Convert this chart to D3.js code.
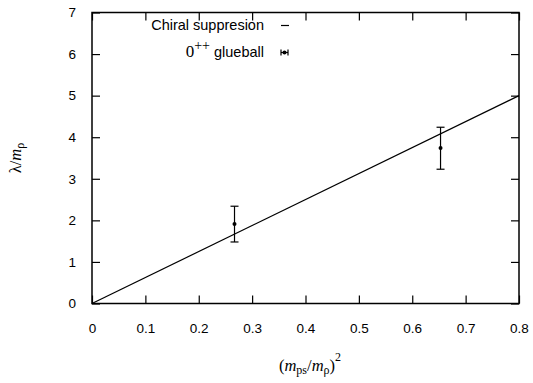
<!DOCTYPE html>
<html>
<head>
<meta charset="utf-8">
<script src="https://cdn.jsdelivr.net/npm/d3@7"></script>
<style>
  html, body { margin: 0; padding: 0; background: #fff; }
  svg { display: block; }
  .tick text { font-family: "Liberation Sans", Arial, sans-serif; font-size: 13.5px; fill: #000; }
</style>
</head>
<body>
<svg id="chart" width="533" height="383"></svg>
<script>
// Glueball data: x = (m_ps/m_rho)^2, y = lambda/m_rho with asymmetric errors
const glueX = [0.267, 0.653];
const glueY = [1.91, 3.74];
const glueLow = [1.48, 3.23];
const glueHigh = [2.34, 4.24];

// Chiral suppression line endpoints
const chiralX = [0, 0.8];
const chiralY = [0, 5.0];

const xTicks = [0, 0.1, 0.2, 0.3, 0.4, 0.5, 0.6, 0.7, 0.8];
const yTicks = [0, 1, 2, 3, 4, 5, 6, 7];

const svg = d3.select("#chart");
const margin = { left: 92, right: 14, top: 12.5, bottom: 79.5 };
const W = 533, H = 383;

const x = d3.scaleLinear().domain([0, 0.8]).range([margin.left, W - margin.right]);
const y = d3.scaleLinear().domain([0, 7]).range([H - margin.bottom, margin.top]);

const tickLen = 8;

// Axes with inward ticks, mirrored on top and right
const gx = svg.append("g").attr("transform", `translate(0,${y(0)})`)
  .call(d3.axisBottom(x).tickValues(xTicks).tickSize(-tickLen).tickPadding(20)
    .tickFormat(d => d === 0 ? "0" : d3.format(".1f")(d)));
const gxTop = svg.append("g").attr("transform", `translate(0,${y(7)})`)
  .call(d3.axisTop(x).tickValues(xTicks).tickSize(-tickLen).tickFormat(""));
const gy = svg.append("g").attr("transform", `translate(${x(0)},0)`)
  .call(d3.axisLeft(y).tickValues(yTicks).tickSize(-tickLen).tickPadding(16).tickFormat(d3.format("d")));
const gyRight = svg.append("g").attr("transform", `translate(${x(0.8)},0)`)
  .call(d3.axisRight(y).tickValues(yTicks).tickSize(-tickLen).tickFormat(""));

[gx, gxTop, gy, gyRight].forEach(g => {
  g.select(".domain").remove();
  g.selectAll(".tick line").attr("stroke", "#000").attr("stroke-width", 1.2);
});

// Frame
svg.append("rect")
  .attr("x", x(0)).attr("y", y(7))
  .attr("width", x(0.8) - x(0)).attr("height", y(0) - y(7))
  .attr("fill", "none").attr("stroke", "#000").attr("stroke-width", 1.5);

// Chiral suppression line
const line = d3.line().x(d => x(d[0])).y(d => y(d[1]));
svg.append("path")
  .datum(d3.zip(chiralX, chiralY))
  .attr("d", line)
  .attr("fill", "none").attr("stroke", "#000").attr("stroke-width", 1.2);

// Error bars
const cap = 4;
const pts = glueX.map((v, i) => ({ x: v, y: glueY[i], lo: glueLow[i], hi: glueHigh[i] }));
const eb = svg.append("g").attr("stroke", "#000").attr("stroke-width", 1.2);
pts.forEach(p => {
  eb.append("line").attr("x1", x(p.x)).attr("x2", x(p.x)).attr("y1", y(p.lo)).attr("y2", y(p.hi));
  eb.append("line").attr("x1", x(p.x) - cap).attr("x2", x(p.x) + cap).attr("y1", y(p.lo)).attr("y2", y(p.lo));
  eb.append("line").attr("x1", x(p.x) - cap).attr("x2", x(p.x) + cap).attr("y1", y(p.hi)).attr("y2", y(p.hi));
});
svg.append("g").selectAll("circle").data(pts).join("circle")
  .attr("cx", d => x(d.x)).attr("cy", d => y(d.y)).attr("r", 2).attr("fill", "#000");

// Legend
const sans = "'Liberation Sans', Arial, sans-serif";
const serif = "'Liberation Serif', 'Times New Roman', serif";
const lg = svg.append("g");
lg.append("text").attr("x", 264).attr("y", 30)
  .attr("text-anchor", "end")
  .style("font-family", sans).style("font-size", "14.5px")
  .text("Chiral suppresion");
lg.append("line").attr("x1", 281).attr("x2", 289).attr("y1", 25.5).attr("y2", 25.5)
  .attr("stroke", "#000").attr("stroke-width", 1.2);

const t2 = lg.append("text").attr("x", 264).attr("y", 57).attr("text-anchor", "end");
t2.append("tspan").style("font-family", serif).style("font-size", "17px").text("0");
t2.append("tspan").attr("dy", -7).style("font-family", serif).style("font-size", "14px").text("++");
t2.append("tspan").attr("dy", 7).style("font-family", sans).style("font-size", "14.5px").text(" glueball");
const ly = 52.5;
lg.append("line").attr("x1", 281).attr("x2", 288).attr("y1", ly).attr("y2", ly).attr("stroke", "#000").attr("stroke-width", 1.2);
lg.append("line").attr("x1", 281).attr("x2", 281).attr("y1", ly - 3).attr("y2", ly + 3).attr("stroke", "#000").attr("stroke-width", 1.2);
lg.append("line").attr("x1", 288).attr("x2", 288).attr("y1", ly - 3).attr("y2", ly + 3).attr("stroke", "#000").attr("stroke-width", 1.2);
lg.append("circle").attr("cx", 284.5).attr("cy", ly).attr("r", 2).attr("fill", "#000");

// Axis titles
const xl = svg.append("text").attr("x", 310).attr("y", 371).attr("text-anchor", "middle")
  .style("font-family", serif).style("font-size", "16.5px");
xl.append("tspan").text("(");
xl.append("tspan").style("font-style", "italic").text("m");
xl.append("tspan").attr("dy", 3).style("font-size", "12px").text("ps");
xl.append("tspan").attr("dy", -3).text("/");
xl.append("tspan").style("font-style", "italic").text("m");
xl.append("tspan").attr("dy", 3).style("font-size", "12px").text("ρ");
xl.append("tspan").attr("dy", -3).text(")");
xl.append("tspan").attr("dy", -10).style("font-size", "12px").text("2");

const yl = svg.append("text")
  .attr("transform", `translate(21,${(y(0) + y(7)) / 2}) rotate(-90)`)
  .attr("text-anchor", "middle")
  .style("font-family", serif).style("font-size", "16.5px");
yl.append("tspan").text("λ/");
yl.append("tspan").style("font-style", "italic").text("m");
yl.append("tspan").attr("dy", 3).style("font-size", "12px").text("ρ");
</script>
</body>
</html>
